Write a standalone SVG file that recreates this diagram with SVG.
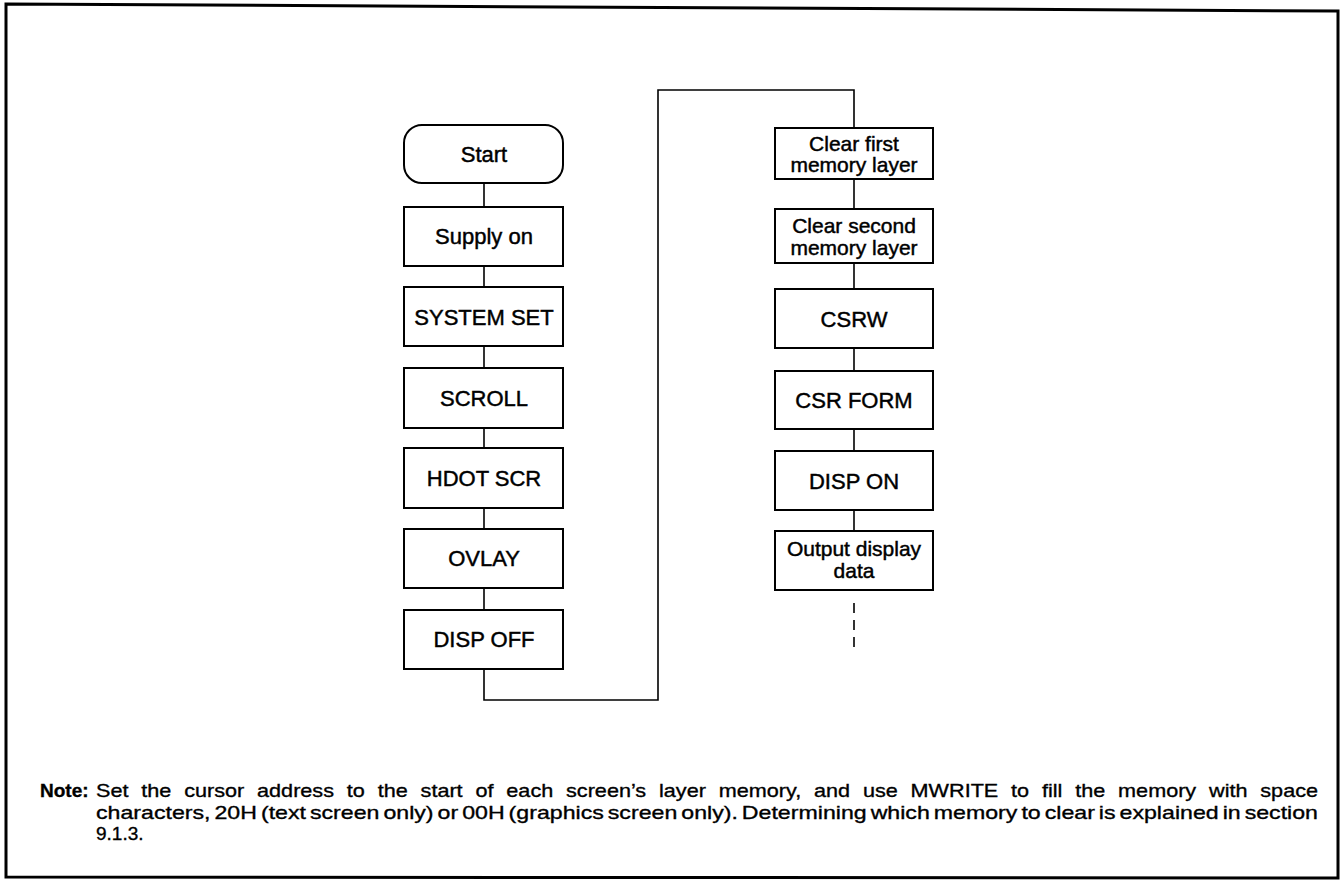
<svg xmlns="http://www.w3.org/2000/svg" width="1341" height="882" viewBox="0 0 1341 882">
<style>
.box{fill:#fff;stroke:#000;stroke-width:2}
.lbl{font-family:"Liberation Sans",Arial,sans-serif;font-size:22px;fill:#000;stroke:#000;stroke-width:0.45;text-anchor:middle}
.lbl2{font-family:"Liberation Sans",Arial,sans-serif;font-size:21px;fill:#000;stroke:#000;stroke-width:0.45;text-anchor:middle}
.con{fill:none;stroke:#000;stroke-width:1.6}
.note{font-family:"Liberation Sans",Arial,sans-serif;font-size:19px;fill:#000;stroke:#000;stroke-width:0.35}
</style>
<rect width="1341" height="882" fill="#fff"/>
<path d="M6,4 L1338,11 L1338,878 L6,877 Z" fill="none" stroke="#000" stroke-width="3"/>
<g id="connectors">
<line class="con" x1="484" y1="183" x2="484" y2="207"/>
<line class="con" x1="484" y1="266" x2="484" y2="287"/>
<line class="con" x1="484" y1="346" x2="484" y2="368"/>
<line class="con" x1="484" y1="428" x2="484" y2="448"/>
<line class="con" x1="484" y1="508" x2="484" y2="529"/>
<line class="con" x1="484" y1="588" x2="484" y2="610"/>
<path class="con" d="M484,669 L484,700 L658,700 L658,90 L854,90 L854,128"/>
<line class="con" x1="854" y1="179" x2="854" y2="209"/>
<line class="con" x1="854" y1="263" x2="854" y2="289"/>
<line class="con" x1="854" y1="348" x2="854" y2="371"/>
<line class="con" x1="854" y1="429" x2="854" y2="451"/>
<line class="con" x1="854" y1="510" x2="854" y2="531"/>
<line class="con" x1="854" y1="603" x2="854" y2="648" stroke-dasharray="10 7"/>
</g>
<g id="start"><rect class="box" x="404" y="125" width="159" height="58" rx="18"/><text class="lbl" x="484" y="162">Start</text></g>
<g id="supply"><rect class="box" x="404" y="207" width="159" height="59"/><text class="lbl" x="484" y="244">Supply on</text></g>
<g id="systemset"><rect class="box" x="404" y="287" width="159" height="59"/><text class="lbl" x="484" y="325">SYSTEM SET</text></g>
<g id="scroll"><rect class="box" x="404" y="368" width="159" height="60"/><text class="lbl" x="484" y="406">SCROLL</text></g>
<g id="hdotscr"><rect class="box" x="404" y="448" width="159" height="60"/><text class="lbl" x="484" y="486">HDOT SCR</text></g>
<g id="ovlay"><rect class="box" x="404" y="529" width="159" height="59"/><text class="lbl" x="484" y="566">OVLAY</text></g>
<g id="dispoff"><rect class="box" x="404" y="610" width="159" height="59"/><text class="lbl" x="484" y="647">DISP OFF</text></g>
<g id="clear1"><rect class="box" x="775" y="128" width="158" height="51"/><text class="lbl2" x="854" y="151">Clear first</text><text class="lbl2" x="854" y="172">memory layer</text></g>
<g id="clear2"><rect class="box" x="775" y="209" width="158" height="54"/><text class="lbl2" x="854" y="233">Clear second</text><text class="lbl2" x="854" y="255">memory layer</text></g>
<g id="csrw"><rect class="box" x="775" y="289" width="158" height="59"/><text class="lbl" x="854" y="327">CSRW</text></g>
<g id="csrform"><rect class="box" x="775" y="371" width="158" height="58"/><text class="lbl" x="854" y="408">CSR FORM</text></g>
<g id="dispon"><rect class="box" x="775" y="451" width="158" height="59"/><text class="lbl" x="854" y="489">DISP ON</text></g>
<g id="output"><rect class="box" x="775" y="531" width="158" height="59"/><text class="lbl2" x="854" y="556">Output display</text><text class="lbl2" x="854" y="578">data</text></g>
<g id="note">
<text class="note" x="40" y="797" font-weight="bold">Note:</text>
<text class="note" x="96" y="797" textLength="1222" lengthAdjust="spacingAndGlyphs" word-spacing="6">Set the cursor address to the start of each screen’s layer memory, and use MWRITE to fill the memory with space</text>
<text class="note" x="96" y="819" textLength="1222" lengthAdjust="spacingAndGlyphs" word-spacing="-2">characters, 20H (text screen only) or 00H (graphics screen only). Determining which memory to clear is explained in section</text>
<text class="note" x="96" y="840">9.1.3.</text>
</g>
</svg>
